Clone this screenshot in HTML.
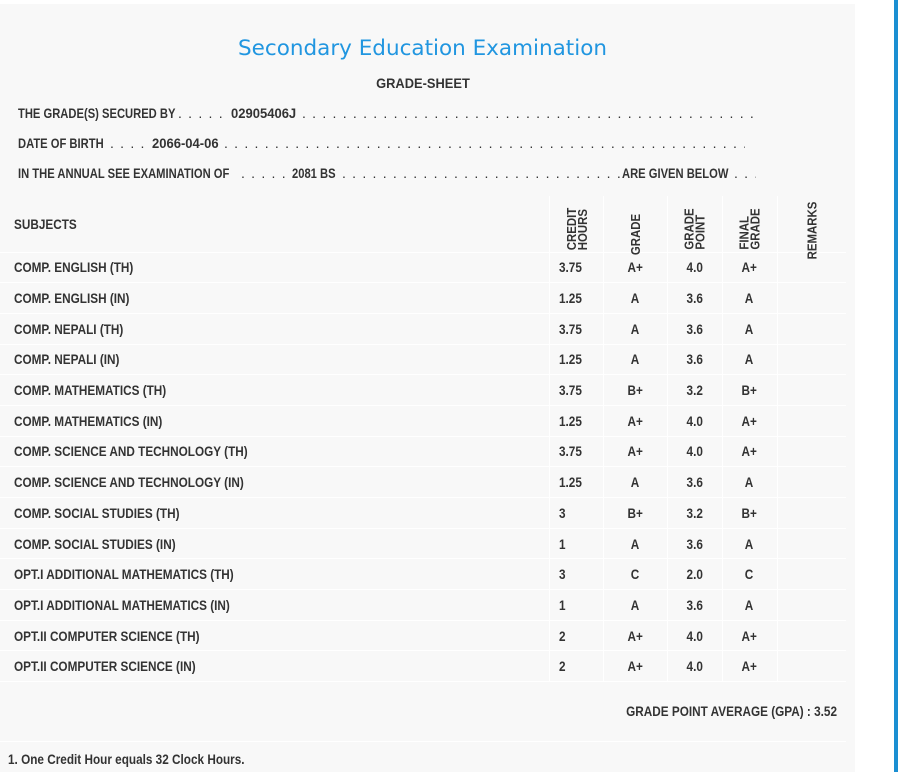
<!DOCTYPE html>
<html><head><meta charset="utf-8"><style>
*{margin:0;padding:0;box-sizing:border-box}
body{width:898px;height:772px;background:#fff;position:relative;overflow:hidden;font-family:"Liberation Sans",sans-serif;color:#333;font-size:14px;font-weight:bold}
.card{position:absolute;left:0;top:4px;width:855px;height:768px;background:#f8f8f8}
.bar{position:absolute;left:894px;top:0;width:4px;height:772px;background:#1b8fd2}
.t{position:absolute;white-space:nowrap}
.n{display:inline-block;transform:scaleX(.84);transform-origin:left center;white-space:nowrap}
.nc{display:inline-block;transform:scaleX(.84);transform-origin:center center;white-space:nowrap}
.i{display:inline-block;transform:scaleX(.8);transform-origin:left center;white-space:nowrap}
.v{display:inline-block;transform:scaleX(.93);transform-origin:left center;white-space:nowrap}
.d{position:absolute;overflow:hidden;white-space:nowrap;font-weight:normal;letter-spacing:1.2px;font-size:14px}
.title{left:0;width:845px;text-align:center;top:36px;font-family:"DejaVu Sans","Liberation Sans",sans-serif;font-weight:normal;font-size:21.5px;color:#2196e0}
.gs{left:0;width:845px;text-align:center;top:75px;font-size:14px}
table{position:absolute;left:0;top:196px;border-collapse:collapse;width:846px;table-layout:fixed}
td{border-bottom:1px solid #fff;border-right:1px solid #fff;height:30.7px;padding:0;font-size:14px;overflow:visible;white-space:nowrap}
td.s{padding-left:14px;width:549px}
td.c{width:54px;padding-left:9px}
td.g{width:64px;text-align:center}
td.p{width:55px;text-align:center}
td.f{width:55px;text-align:center}
td.r{width:69px;border-right:none}
tr.h td{height:56px;vertical-align:bottom;padding-bottom:10px}
.rot{display:inline-block;transform:rotate(-90deg) scaleX(.88);font-size:13px;line-height:11px;text-align:left;white-space:nowrap}
</style></head><body>
<div class="card"></div>
<div class="bar"></div>
<div class="t title">Secondary Education Examination</div>
<div class="t gs"><span class="nc" style="transform:scaleX(.92)">GRADE-SHEET</span></div>

<div class="t" style="left:18px;top:105px"><span class="i">THE GRADE(S) SECURED BY</span></div>
<div class="d" style="left:178px;top:105px;width:52px">. . . . . . . . .</div>
<div class="t" style="left:231px;top:105px"><span class="v">02905406J</span></div>
<div class="d" style="left:302px;top:105px;width:453px">. . . . . . . . . . . . . . . . . . . . . . . . . . . . . . . . . . . . . . . . . . . . . . . . . . . . . . . . . . . . . . . . . . . . .</div>

<div class="t" style="left:18px;top:135px"><span class="i">DATE OF BIRTH</span></div>
<div class="d" style="left:110px;top:135px;width:42px">. . . . . . . . .</div>
<div class="t" style="left:152px;top:135px"><span class="v">2066-04-06</span></div>
<div class="d" style="left:224px;top:135px;width:521px">. . . . . . . . . . . . . . . . . . . . . . . . . . . . . . . . . . . . . . . . . . . . . . . . . . . . . . . . . . . . . . . . . . . . . . . . . . . .</div>

<div class="t" style="left:18px;top:165px"><span class="i">IN THE ANNUAL SEE EXAMINATION OF</span></div>
<div class="d" style="left:241px;top:165px;width:51px">. . . . . . . . .</div>
<div class="t" style="left:292px;top:165px"><span class="i">2081 BS</span></div>
<div class="d" style="left:342px;top:165px;width:279px">. . . . . . . . . . . . . . . . . . . . . . . . . . . . . . . . . . . . . . . . . .</div>
<div class="t" style="left:622px;top:165px"><span class="i">ARE GIVEN BELOW</span></div>
<div class="d" style="left:734px;top:165px;width:22px">. . . . . .</div>

<table>
<colgroup><col style="width:549px"><col style="width:54px"><col style="width:64px"><col style="width:55px"><col style="width:55px"><col style="width:69px"></colgroup>
<tr class="h"><td class="s" style="vertical-align:middle;padding-bottom:0"><span class="n">SUBJECTS</span></td>
<td class="c" style="padding-left:3px"><span class="rot">CREDIT<br>HOURS</span></td>
<td class="g"><span class="rot">GRADE</span></td>
<td class="p"><span class="rot">GRADE<br>POINT</span></td>
<td class="f"><span class="rot">FINAL<br>GRADE</span></td>
<td class="r" style="text-align:center;vertical-align:top;padding-top:26px"><span class="rot">REMARKS</span></td></tr>
<tr><td class="s"><span class="n">COMP. ENGLISH (TH)</span></td><td class="c"><span class="n">3.75</span></td><td class="g"><span class="nc">A+</span></td><td class="p"><span class="nc">4.0</span></td><td class="f"><span class="nc">A+</span></td><td class="r"></td></tr>
<tr><td class="s"><span class="n">COMP. ENGLISH (IN)</span></td><td class="c"><span class="n">1.25</span></td><td class="g"><span class="nc">A</span></td><td class="p"><span class="nc">3.6</span></td><td class="f"><span class="nc">A</span></td><td class="r"></td></tr>
<tr><td class="s"><span class="n">COMP. NEPALI (TH)</span></td><td class="c"><span class="n">3.75</span></td><td class="g"><span class="nc">A</span></td><td class="p"><span class="nc">3.6</span></td><td class="f"><span class="nc">A</span></td><td class="r"></td></tr>
<tr><td class="s"><span class="n">COMP. NEPALI (IN)</span></td><td class="c"><span class="n">1.25</span></td><td class="g"><span class="nc">A</span></td><td class="p"><span class="nc">3.6</span></td><td class="f"><span class="nc">A</span></td><td class="r"></td></tr>
<tr><td class="s"><span class="n">COMP. MATHEMATICS (TH)</span></td><td class="c"><span class="n">3.75</span></td><td class="g"><span class="nc">B+</span></td><td class="p"><span class="nc">3.2</span></td><td class="f"><span class="nc">B+</span></td><td class="r"></td></tr>
<tr><td class="s"><span class="n">COMP. MATHEMATICS (IN)</span></td><td class="c"><span class="n">1.25</span></td><td class="g"><span class="nc">A+</span></td><td class="p"><span class="nc">4.0</span></td><td class="f"><span class="nc">A+</span></td><td class="r"></td></tr>
<tr><td class="s"><span class="n">COMP. SCIENCE AND TECHNOLOGY (TH)</span></td><td class="c"><span class="n">3.75</span></td><td class="g"><span class="nc">A+</span></td><td class="p"><span class="nc">4.0</span></td><td class="f"><span class="nc">A+</span></td><td class="r"></td></tr>
<tr><td class="s"><span class="n">COMP. SCIENCE AND TECHNOLOGY (IN)</span></td><td class="c"><span class="n">1.25</span></td><td class="g"><span class="nc">A</span></td><td class="p"><span class="nc">3.6</span></td><td class="f"><span class="nc">A</span></td><td class="r"></td></tr>
<tr><td class="s"><span class="n">COMP. SOCIAL STUDIES (TH)</span></td><td class="c"><span class="n">3</span></td><td class="g"><span class="nc">B+</span></td><td class="p"><span class="nc">3.2</span></td><td class="f"><span class="nc">B+</span></td><td class="r"></td></tr>
<tr><td class="s"><span class="n">COMP. SOCIAL STUDIES (IN)</span></td><td class="c"><span class="n">1</span></td><td class="g"><span class="nc">A</span></td><td class="p"><span class="nc">3.6</span></td><td class="f"><span class="nc">A</span></td><td class="r"></td></tr>
<tr><td class="s"><span class="n">OPT.I ADDITIONAL MATHEMATICS (TH)</span></td><td class="c"><span class="n">3</span></td><td class="g"><span class="nc">C</span></td><td class="p"><span class="nc">2.0</span></td><td class="f"><span class="nc">C</span></td><td class="r"></td></tr>
<tr><td class="s"><span class="n">OPT.I ADDITIONAL MATHEMATICS (IN)</span></td><td class="c"><span class="n">1</span></td><td class="g"><span class="nc">A</span></td><td class="p"><span class="nc">3.6</span></td><td class="f"><span class="nc">A</span></td><td class="r"></td></tr>
<tr><td class="s"><span class="n">OPT.II COMPUTER SCIENCE (TH)</span></td><td class="c"><span class="n">2</span></td><td class="g"><span class="nc">A+</span></td><td class="p"><span class="nc">4.0</span></td><td class="f"><span class="nc">A+</span></td><td class="r"></td></tr>
<tr><td class="s"><span class="n">OPT.II COMPUTER SCIENCE (IN)</span></td><td class="c"><span class="n">2</span></td><td class="g"><span class="nc">A+</span></td><td class="p"><span class="nc">4.0</span></td><td class="f"><span class="nc">A+</span></td><td class="r"></td></tr>
</table>
<div class="t" style="right:61px;top:703px"><span class="n" style="transform-origin:right center">GRADE POINT AVERAGE (GPA) : 3.52</span></div>
<div style="position:absolute;left:0;top:741px;width:846px;height:1px;background:#fff"></div>
<div class="t" style="left:8px;top:751px"><span class="n">1. One Credit Hour equals 32 Clock Hours.</span></div>
</body></html>
